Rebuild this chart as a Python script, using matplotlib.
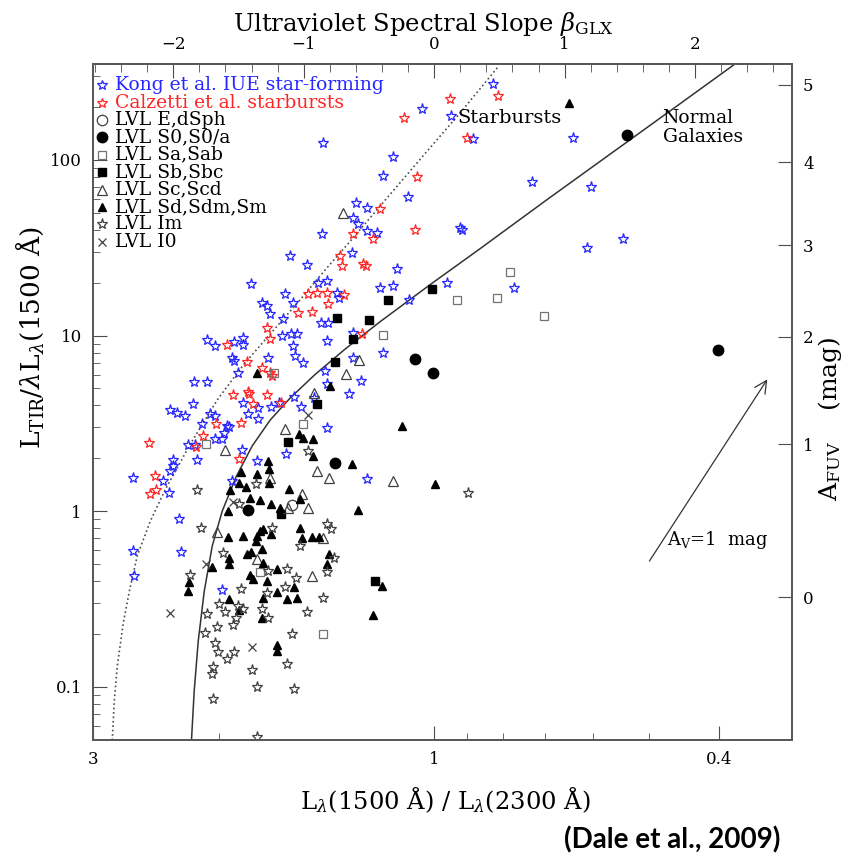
import numpy as np
import matplotlib
matplotlib.use('Agg')
import matplotlib.pyplot as plt
from matplotlib.ticker import NullLocator, NullFormatter, LogLocator

plt.rcParams['font.family'] = ['DejaVu Serif']
plt.rcParams['mathtext.fontset'] = 'dejavuserif'

# Kong et al. IUE star-forming galaxies: L(1500)/L(2300), L_TIR/lambda L(1500)
kong_x = [1.429, 1.178, 1.285, 1.241, 1.298, 1.277, 1.241, 1.201, 1.434, 1.590,
          1.302, 1.505, 1.126, 1.803, 1.453, 1.411, 1.366, 1.358, 1.190, 1.141,
          1.615, 1.740, 1.712, 1.574, 1.696, 1.084, 1.626, 1.439, 1.406, 1.631,
          1.585, 1.554, 2.077, 2.024, 1.904, 1.849, 1.849, 1.574, 1.411, 1.298,
          1.916, 1.904, 1.707, 1.564, 1.524, 1.298, 1.178, 1.879, 1.420, 1.265,
          1.411, 2.166, 2.077, 1.849, 1.820, 1.762, 1.762, 1.690, 1.647, 1.569,
          1.534, 1.471, 1.315, 2.173, 2.339, 2.287, 2.229, 2.111, 2.057, 2.024,
          1.947, 1.411, 2.024, 1.979, 1.966, 1.934, 2.208, 2.159, 1.610, 1.855,
          1.768, 2.317, 2.145, 2.635, 2.339, 2.317, 2.392, 2.347, 1.916, 1.241,
          2.273, 2.635, 2.258, 2.627, 1.979, 0.827, 1.039, 0.947, 0.882, 0.639,
          1.141, 0.730, 0.603, 1.087, 0.920, 0.915, 0.611, 0.544, 0.959, 0.773]
kong_y = [125, 81.0, 56.9, 53.3, 46.7, 43.2, 39.4, 38.4, 37.9, 28.4,
          29.5, 25.2, 23.9, 19.7, 19.9, 20.4, 17.5, 16.4, 18.6, 19.1,
          17.2, 15.3, 14.7, 15.3, 13.3, 15.9, 12.4, 11.8, 11.8, 9.94,
          10.2, 10.2, 9.43, 8.71, 9.18, 9.68, 8.83, 8.71, 9.30, 10.3,
          7.44, 7.16, 7.44, 7.64, 6.97, 7.44, 7.95, 6.11, 6.28, 5.51,
          5.29, 5.43, 5.43, 4.12, 3.57, 3.86, 3.34, 3.91, 4.12, 4.46,
          3.91, 4.41, 4.64, 4.07, 3.76, 3.62, 3.48, 3.13, 3.57, 3.48,
          3.05, 2.97, 2.57, 2.57, 2.78, 3.01, 2.38, 2.38, 2.11, 2.23,
          1.93, 1.95, 1.95, 1.54, 1.69, 1.80, 1.48, 1.27, 1.48, 1.52,
          0.900, 0.592, 0.584, 0.426, 0.355, 271, 195, 178, 132, 133.5,
          104, 74.9, 70.2, 61.5, 41.0, 40.0, 31.5, 35.5, 19.9, 18.6]

# Calzetti et al. starbursts
calz_x = [1.190, 1.298, 1.217, 1.353, 1.345, 1.257, 1.245, 1.457, 1.411, 1.336,
          1.500, 1.549, 1.481, 1.406, 1.712, 1.696, 1.947, 1.261, 1.826, 1.740,
          1.696, 1.685, 1.910, 1.820, 1.814, 1.712, 1.791, 1.637, 2.018, 1.861,
          2.104, 2.152, 1.873, 2.503, 2.455, 2.447, 2.495, 0.814, 0.950, 1.101,
          0.899, 1.056, 1.063]
calz_y = [52.6, 37.9, 35.5, 28.4, 24.9, 25.6, 24.9, 17.5, 17.5, 17.0,
          17.2, 13.4, 13.6, 15.1, 11.0, 9.55, 8.83, 10.2, 7.06, 6.53,
          6.11, 5.88, 4.58, 4.76, 4.64, 4.58, 4.07, 4.12, 3.13, 3.17,
          2.68, 2.32, 1.98, 2.44, 1.58, 1.32, 1.25, 232, 223, 173,
          133.5, 80.0, 39.9]

# LVL galaxies by morphological type
e_dsph_x = [1.579]
e_dsph_y = [1.08]

s0_x = [0.537, 1.063, 1.003, 0.401, 1.375, 1.820]
s0_y = [139, 7.35, 6.11, 8.27, 1.88, 1.01]

sa_x = [2.083, 1.674, 1.524, 1.751, 1.429, 1.178, 0.929, 0.816, 0.783, 0.702]
sa_y = [2.41, 6.11, 3.13, 0.449, 0.199, 10.1, 15.9, 16.4, 23.0, 12.9]

sb_x = [1.006, 1.160, 1.366, 1.233, 1.298, 1.375, 1.457, 1.600, 1.637, 1.209]
sb_y = [18.4, 15.9, 12.6, 12.3, 9.55, 7.06, 4.07, 2.47, 0.961, 0.399]

sc_x = [1.340, 1.273, 1.327, 1.471, 1.615, 1.960, 1.696, 1.457, 1.402, 1.141,
        1.529, 1.600, 1.500, 2.011, 1.429, 1.768, 1.481]
sc_y = [49.9, 7.25, 6.03, 4.70, 2.93, 2.23, 1.54, 1.69, 1.54, 1.48,
        1.25, 1.04, 1.04, 0.759, 0.702, 0.533, 0.426]

sd_x = [0.648, 1.768, 1.398, 1.108, 1.544, 1.524, 1.476, 1.476, 1.302, 1.861,
        1.768, 1.701, 1.707, 1.701, 0.997, 1.873, 1.831, 1.928, 1.595, 1.808,
        1.751, 1.690, 1.642, 1.539, 1.277, 1.941, 1.941, 1.849, 1.768, 1.751,
        1.734, 1.539, 1.481, 1.448, 1.529, 1.774, 1.740, 1.803, 1.826, 1.934,
        1.934, 2.044, 2.201, 2.208, 1.402, 1.411, 1.734, 1.808, 1.791, 1.658,
        1.712, 1.182, 1.217, 1.569, 1.658, 1.734, 1.605, 1.554, 1.934, 1.873,
        1.740, 1.658, 1.658, 1.690]
sd_y = [211, 6.11, 5.16, 3.05, 2.75, 2.61, 2.57, 2.06, 1.85, 1.67,
        1.62, 1.74, 1.93, 1.44, 1.42, 1.44, 1.37, 1.32, 1.33, 1.19,
        1.16, 1.10, 1.04, 1.17, 1.01, 1.00, 0.711, 0.720, 0.720, 0.769,
        0.790, 0.800, 0.711, 0.711, 0.702, 0.675, 0.607, 0.584, 0.569, 0.540,
        0.499, 0.480, 0.394, 0.350, 0.569, 0.499, 0.505, 0.432, 0.410, 0.467,
        0.399, 0.374, 0.255, 0.369, 0.345, 0.319, 0.315, 0.319, 0.315, 0.273,
        0.246, 0.172, 0.159, 0.740]

im_x = [1.500, 1.774, 2.145, 1.873, 2.118, 1.685, 1.411, 1.393, 1.539, 1.972,
        2.193, 1.380, 1.411, 1.707, 1.605, 1.559, 1.861, 1.615, 1.712, 1.429,
        1.505, 1.998, 2.077, 1.960, 1.879, 1.849, 1.891, 1.740, 1.707, 1.910,
        2.011, 2.090, 1.579, 2.024, 2.004, 1.947, 1.904, 1.605, 2.037, 2.044,
        1.797, 1.768, 1.569, 2.037, 1.768, 0.896]
im_y = [2.20, 1.42, 1.32, 1.10, 0.800, 0.800, 0.843, 0.790, 0.632, 0.576,
        0.432, 0.540, 0.449, 0.455, 0.467, 0.415, 0.359, 0.369, 0.341, 0.319,
        0.266, 0.295, 0.259, 0.266, 0.288, 0.276, 0.246, 0.276, 0.246, 0.224,
        0.218, 0.202, 0.199, 0.177, 0.157, 0.143, 0.157, 0.134, 0.129, 0.118,
        0.124, 0.0993, 0.0968, 0.0849, 0.0516, 1.27]

i0_x = [1.910, 1.500, 2.083, 2.339, 1.797]
i0_y = [1.13, 3.52, 0.499, 0.262, 0.168]

# model curves
normal_x = [2.185, 2.166, 2.138, 2.097, 2.044, 1.979, 1.891, 1.797, 1.696, 1.590,
            1.467, 1.331, 1.190, 1.013, 0.862, 0.695, 0.562, 0.453, 0.3735]
normal_y = [0.0496, 0.0943, 0.182, 0.350, 0.632, 1.00, 1.58, 2.35, 3.30, 4.41,
            6.01, 8.40, 12.0, 19.5, 31.3, 59.5, 111, 209, 369]
starburst_x = [2.820, 2.802, 2.775, 2.722, 2.669, 2.601, 2.495, 2.377, 2.193, 2.011,
               1.849, 1.696, 1.554, 1.429, 1.310, 1.190, 1.046, 0.920, 0.814]
starburst_y = [0.0496, 0.0827, 0.131, 0.23, 0.350, 0.56, 0.877, 1.33, 2.41, 4.30,
               6.80, 10.2, 15.3, 23.0, 34.5, 54.7, 101, 185, 339]

legend_labels = ['Kong et al. IUE star-forming', 'Calzetti et al. starbursts',
                 'LVL E,dSph', 'LVL S0,S0/a', 'LVL Sa,Sab', 'LVL Sb,Sbc',
                 'LVL Sc,Scd', 'LVL Sd,Sdm,Sm', 'LVL Im', 'LVL I0']

beta_ticks = [-2, -1, 0, 1, 2]
afuv_ticks = [0, 1, 2, 3, 4, 5]

BLUE = '#2626ff'
RED = '#ff2626'
K_BETA = 0.1825   # dex in L(1500)/L(2300) per unit beta


def a_fuv(logr):
    # Buat et al. (2005) conversion from log(L_TIR/L_FUV) to A_FUV
    return -0.0333 * logr**3 + 0.3522 * logr**2 + 1.1960 * logr + 0.4967


def from_beta(b):
    return 10**(-K_BETA * np.asarray(b, dtype=float))


styles = [
    dict(marker='*', mfc='none', mec=BLUE, ms=8, mew=0.9),
    dict(marker='*', mfc='none', mec=RED, ms=8, mew=0.9),
    dict(marker='o', mfc='none', mec='0.25', ms=7.5, mew=0.9),
    dict(marker='o', mfc='k', mec='k', ms=7.5),
    dict(marker='s', mfc='none', mec='0.45', ms=5.5, mew=0.9),
    dict(marker='s', mfc='k', mec='k', ms=5.5),
    dict(marker='^', mfc='none', mec='0.25', ms=7, mew=0.9),
    dict(marker='^', mfc='k', mec='k', ms=6),
    dict(marker='*', mfc='none', mec='0.25', ms=8, mew=0.9),
    dict(marker='x', mec='0.25', ms=6, mew=0.9),
]
groups = [(kong_x, kong_y), (calz_x, calz_y), (e_dsph_x, e_dsph_y), (s0_x, s0_y),
          (sa_x, sa_y), (sb_x, sb_y), (sc_x, sc_y), (sd_x, sd_y), (im_x, im_y),
          (i0_x, i0_y)]
text_colors = [BLUE, RED] + ['k'] * 8

fig = plt.figure(figsize=(8.46, 8.59), dpi=100)
ax = fig.add_axes([0.110, 0.139, 0.826, 0.786])
ax.set_xscale('log')
ax.set_yscale('log')
ax.set_xlim(3, 0.316)
ax.set_ylim(0.05, 350)

ax.plot(starburst_x, starburst_y, ls=':', color='0.3', lw=1.2)
ax.plot(normal_x, normal_y, ls='-', color='0.2', lw=1.1)

for (gx, gy), st in zip(groups, styles):
    ax.plot(gx, gy, ls='none', **st)

# legend drawn by hand in the upper left corner
for i, (lab, st, tc) in enumerate(zip(legend_labels, styles, text_colors)):
    yy = (739.3 - (85 + 17.4 * i)) / 675.0
    kw = dict(st)
    if i < 2:
        kw['ms'] = 7
    ax.plot([0.013], [yy], transform=ax.transAxes, ls='none', clip_on=False, **kw)
    ax.text(0.031, yy, lab, transform=ax.transAxes, color=tc, fontsize=13.5,
            va='center', ha='left')

ax.text(0.522, 0.920, 'Starbursts', transform=ax.transAxes, fontsize=14,
        va='center', ha='left')
ax.text(0.815, 0.907, 'Normal\nGalaxies', transform=ax.transAxes, fontsize=13.5,
        va='center', ha='left', linespacing=1.1)

ax.annotate('', xy=(0.967, 0.537), xytext=(0.794, 0.261), xycoords='axes fraction',
            arrowprops=dict(arrowstyle='->', lw=0.9, color='0.2', mutation_scale=22))
ax.text(0.967, 0.295, r'A$_{\rm V}$=1  mag', transform=ax.transAxes, fontsize=13,
        ha='right', va='center')

# bottom / left axes
ax.set_xticks([3, 1, 0.4], labels=['3', '1', '0.4'])
ax.set_xticks([2, 0.9, 0.8, 0.7, 0.6, 0.5], minor=True)
ax.xaxis.set_minor_formatter(NullFormatter())
ax.set_yticks([0.1, 1, 10, 100], labels=['0.1', '1', '10', '100'])
ax.yaxis.set_minor_locator(LogLocator(base=10, subs=np.arange(2, 10)))
ax.yaxis.set_minor_formatter(NullFormatter())
ax.tick_params(which='both', direction='in', top=False, right=False,
               labelsize=12, color='0.3', pad=8)
ax.tick_params(which='major', length=10)
ax.tick_params(which='minor', length=5)
for sp in ax.spines.values():
    sp.set_color('0.35')
    sp.set_linewidth(1.2)

ax.set_xlabel(r'L$_\lambda$(1500 Å) / L$_\lambda$(2300 Å)', fontsize=17.5)
ax.xaxis.set_label_coords(0.504, -0.068)
ax.set_ylabel(r'L$_{\rm TIR}$/$\lambda$L$_\lambda$(1500 Å)', fontsize=19)
ax.yaxis.set_label_coords(-0.068, 0.595)

# top axis: UV spectral slope
ax3 = ax.twiny()
ax3.set_xscale('log')
ax3.set_xlim(ax.get_xlim())
ax3.set_xticks(from_beta(beta_ticks),
               labels=[str(b).replace('-', '\u2212') for b in beta_ticks])
beta_minor = [b for b in np.round(np.arange(-2.6, 2.75, 0.2), 1) if b % 1 != 0]
ax3.set_xticks(from_beta(beta_minor), minor=True)
ax3.xaxis.set_minor_formatter(NullFormatter())
ax3.tick_params(which='both', direction='in', labelsize=12, color='0.3', pad=8)
ax3.tick_params(which='major', length=10)
ax3.tick_params(which='minor', length=6)
ax3.set_xlabel(r'Ultraviolet Spectral Slope $\beta_{\rm GLX}$', fontsize=17.5)
ax3.xaxis.set_label_coords(0.472, 1.050)
for sp in ax3.spines.values():
    sp.set_color('0.35')
    sp.set_linewidth(1.2)

# right axis: FUV attenuation
logr_grid = np.linspace(-1.6, 2.8, 800)
a_grid = a_fuv(logr_grid)
a_pos = 10**np.interp(afuv_ticks, a_grid, logr_grid)
ax2 = ax.twinx()
ax2.set_yscale('log')
ax2.set_ylim(ax.get_ylim())
ax2.set_yticks(a_pos, labels=[str(a) for a in afuv_ticks])
ax2.yaxis.set_minor_locator(NullLocator())
ax2.tick_params(direction='in', length=10, labelsize=12, color='0.3', pad=8)
for sp in ax2.spines.values():
    sp.set_color('0.35')
    sp.set_linewidth(1.2)
ax2.set_ylabel(r'A$_{\rm FUV}$    (mag)', fontsize=18)
ax2.yaxis.set_label_coords(1.035, 0.475)

fig.text(0.922, 0.022, '(Dale et al., 2009)', fontsize=20, fontweight='bold',
         family=['Lato', 'DejaVu Sans'], ha='right', va='center')

fig.savefig('out.png', dpi=100)
